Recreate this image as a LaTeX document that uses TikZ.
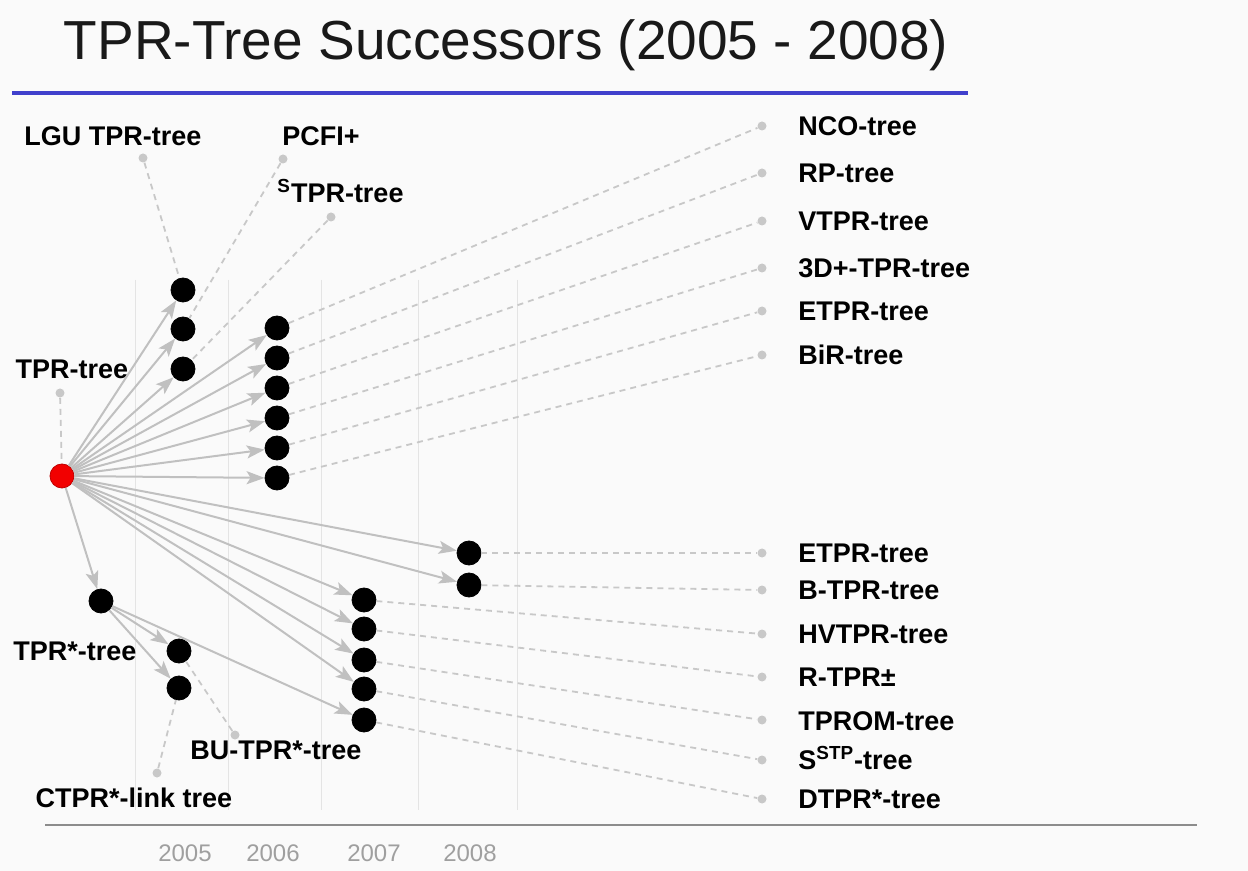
\documentclass[tikz,border=0pt]{standalone}
\usepackage{fontspec}
\setmainfont{Liberation Sans}
\usepackage{tikz}
\usetikzlibrary{arrows,arrows.meta}

\definecolor{edgegray}{RGB}{192,192,192}
\definecolor{dashgray}{RGB}{200,200,200}
\definecolor{titlerule}{RGB}{64,64,204}
\definecolor{gridgray}{RGB}{228,228,228}

\begin{document}
\begin{tikzpicture}[x=0.5pt,y=-0.5pt,-,>={Stealth[length=9pt,width=6.5pt,inset=2pt]},
  main node/.style={circle,fill=black,draw=black,inner sep=0pt,minimum size=12pt},
  root node/.style={circle,fill=red!95!black,draw=red!75!black,inner sep=0pt,minimum size=12pt},
  end dot/.style={circle,fill=dashgray,inner sep=0pt,minimum size=4.5pt},
  tree label/.style={inner sep=1pt,font=\bfseries\fontsize{13.5}{16}\selectfont},
  year label/.style={text=gray!75,font=\fontsize{12}{14}\selectfont},
  succ/.style={->,color=edgegray,line width=1pt},
  link/.style={color=dashgray,line width=0.9pt,dash pattern=on 3pt off 2.5pt}]
  \useasboundingbox[fill=black!2] (0,0) rectangle (1248,871);

  % title
  \node[text=black!90,font=\fontsize{27.5}{33}\selectfont] (title) at (506,45) {TPR-Tree Successors (2005 - 2008)};
  \draw[titlerule,line width=2pt] (12,93) -- (968,93);

  % year grid
  \draw[gridgray,line width=0.5pt] (135,280) -- (135,810);
  \draw[gridgray,line width=0.5pt] (228,280) -- (228,810);
  \draw[gridgray,line width=0.5pt] (321,280) -- (321,810);
  \draw[gridgray,line width=0.5pt] (418,280) -- (418,810);
  \draw[gridgray,line width=0.5pt] (517,280) -- (517,810);
  \draw[black!45,line width=1pt] (45,825) -- (1197,825);
  \node[year label] (y1) at (185,853) {2005};
  \node[year label] (y2) at (273,853) {2006};
  \node[year label] (y3) at (374,853) {2007};
  \node[year label] (y4) at (470,853) {2008};

  % trees
  \node[root node] (r) at (62,476) {};
  \node[main node] (a1) at (183,290) {};
  \node[main node] (a2) at (183,329) {};
  \node[main node] (a3) at (183,369) {};
  \node[main node] (b1) at (277,328) {};
  \node[main node] (b2) at (277,358) {};
  \node[main node] (b3) at (277,388) {};
  \node[main node] (b4) at (277,418) {};
  \node[main node] (b5) at (277,448) {};
  \node[main node] (b6) at (277,478) {};
  \node[main node] (c1) at (364,600) {};
  \node[main node] (c2) at (364,629) {};
  \node[main node] (c3) at (364,660) {};
  \node[main node] (c4) at (364,689) {};
  \node[main node] (c5) at (364,720) {};
  \node[main node] (d1) at (469,553) {};
  \node[main node] (d2) at (469,585) {};
  \node[main node] (s)  at (101,601) {};
  \node[main node] (s1) at (179,651) {};
  \node[main node] (s2) at (179,688) {};

  % labels on the left
  \node[end dot] (tr) at (60,393) {};
  \node[tree label] (trl) at (72,369) {TPR-tree};
  \node[end dot] (lg) at (143,158) {};
  \node[tree label] (lgl) at (113,136) {LGU TPR-tree};
  \node[end dot] (pc) at (283,159) {};
  \node[tree label,anchor=west] (pcl) at (280,136) {PCFI+};
  \node[end dot] (st) at (331,217) {};
  \node[tree label,anchor=west] (stl) at (275,191) {\textsuperscript{S}TPR-tree};
  \node[tree label] (tsl) at (75,651) {TPR*-tree};
  \node[end dot] (bu) at (235,735) {};
  \node[tree label] (bul) at (276,750) {BU-TPR*-tree};
  \node[end dot] (ct) at (157,773) {};
  \node[tree label] (ctl) at (134,798) {CTPR*-link tree};

  % labels on the right
  \node[end dot] (e1) at (762,126) {};
  \node[tree label,anchor=west] (n1) at (796,126) {NCO-tree};
  \node[end dot] (e2) at (762,173) {};
  \node[tree label,anchor=west] (n2) at (796,173) {RP-tree};
  \node[end dot] (e3) at (762,221) {};
  \node[tree label,anchor=west] (n3) at (796,221) {VTPR-tree};
  \node[end dot] (e4) at (762,268) {};
  \node[tree label,anchor=west] (n4) at (796,268) {3D+-TPR-tree};
  \node[end dot] (e5) at (762,311) {};
  \node[tree label,anchor=west] (n5) at (796,311) {ETPR-tree};
  \node[end dot] (e6) at (762,355) {};
  \node[tree label,anchor=west] (n6) at (796,355) {BiR-tree};
  \node[end dot] (e7) at (762,553) {};
  \node[tree label,anchor=west] (n7) at (796,553) {ETPR-tree};
  \node[end dot] (e8) at (762,590) {};
  \node[tree label,anchor=west] (n8) at (796,590) {B-TPR-tree};
  \node[end dot] (e9) at (762,634) {};
  \node[tree label,anchor=west] (n9) at (796,634) {HVTPR-tree};
  \node[end dot] (e10) at (762,677) {};
  \node[tree label,anchor=west] (n10) at (796,677) {R-TPR±};
  \node[end dot] (e11) at (762,720) {};
  \node[tree label,anchor=west] (n11) at (796,721) {TPROM-tree};
  \node[end dot] (e12) at (762,760) {};
  \node[tree label,anchor=west] (n12) at (796,758) {S\textsuperscript{STP}-tree};
  \node[end dot] (e13) at (762,799) {};
  \node[tree label,anchor=west] (n13) at (796,799) {DTPR*-tree};

  \path[link]
    (tr) edge (r)
    (lg) edge (a1)
    (pc) edge (a2)
    (st) edge (a3)
    (bu) edge (s1)
    (ct) edge (s2)
    (b1) edge (e1)
    (b2) edge (e2)
    (b3) edge (e3)
    (b4) edge (e4)
    (b5) edge (e5)
    (b6) edge (e6)
    (d1) edge (e7)
    (d2) edge (e8)
    (c1) edge (e9)
    (c2) edge (e10)
    (c3) edge (e11)
    (c4) edge (e12)
    (c5) edge (e13);

  \path[succ]
    (r) edge (a1)
    (r) edge (a2)
    (r) edge (a3)
    (r) edge (b1)
    (r) edge (b2)
    (r) edge (b3)
    (r) edge (b4)
    (r) edge (b5)
    (r) edge (b6)
    (r) edge (d1)
    (r) edge (d2)
    (r) edge (c1)
    (r) edge (c2)
    (r) edge (c3)
    (r) edge (c4)
    (r) edge (s)
    (s) edge (s1)
    (s) edge (s2)
    (s) edge (c5);
\end{tikzpicture}
\end{document}
